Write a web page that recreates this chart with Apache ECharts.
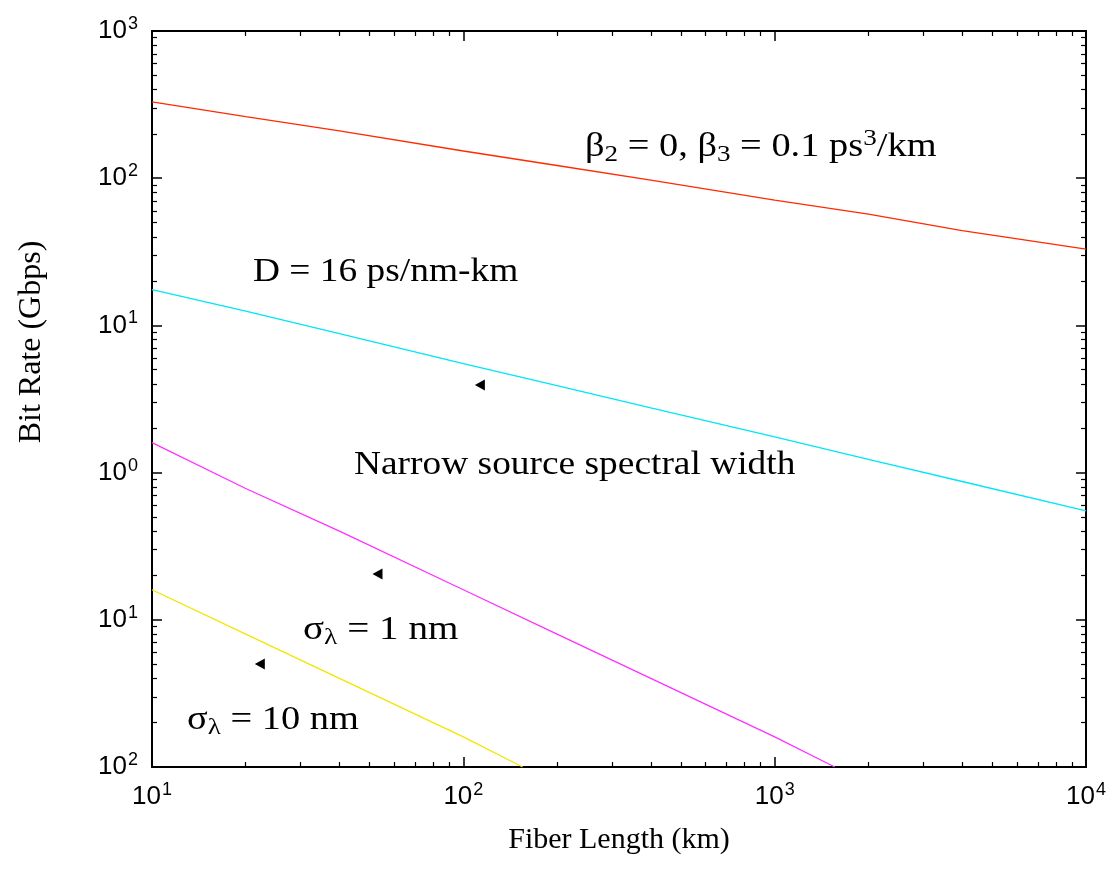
<!DOCTYPE html>
<html>
<head>
<meta charset="utf-8">
<script src="https://cdn.jsdelivr.net/npm/echarts@6/dist/echarts.min.js"></script>
<style>
html,body{margin:0;padding:0;background:#fff;}
#chart{width:1109px;height:887px;}
</style>
</head>
<body>
<div id="chart"></div>
<script>
// Fiber length (km) and bit rate (Gbps)
const redX = [10, 20, 40, 100, 200, 400, 1000, 2000, 4000, 10000];
const redY = [330, 262, 210, 153, 122, 97, 71, 57, 44, 33];
const cyanX = [10, 20, 40, 100, 200, 400, 1000, 2000, 4000, 10000];
const cyanY = [17.5, 12.5, 8.8, 5.5, 3.9, 2.75, 1.75, 1.23, 0.87, 0.55];
const magentaX = [10, 20, 40, 100, 200, 400, 1000, 1560];
const magentaY = [1.6, 0.78, 0.4, 0.16, 0.08, 0.04, 0.016, 0.01];
const yellowX = [10, 20, 40, 100, 155];
const yellowY = [0.16, 0.08, 0.04, 0.016, 0.01];
// small arrow heads (pointing left)
const arrowX = [113, 53, 22.2];
const arrowY = [3.94, 0.205, 0.050];
// tick label exponents as printed in the reference
const xTickExp = {1: '1', 2: '2', 3: '3', 4: '4'};
const yTickExp = {'-2': '2', '-1': '1', '0': '0', '1': '1', '2': '2', '3': '3'};

const zip = (a, b) => a.map((v, i) => [v, b[i]]);

const chart = echarts.init(document.getElementById('chart'), null, {renderer: 'canvas'});

const tickRich = {
  b: {fontFamily: 'Liberation Sans', fontSize: 26, color: '#000'},
  s: {fontFamily: 'Liberation Sans', fontSize: 18, color: '#000', padding: [0, 0, 14, 1]}
};
const axisCommon = {
  type: 'log',
  logBase: 10,
  axisLine: {lineStyle: {color: '#000', width: 2}},
  axisTick: {inside: true, length: 10, lineStyle: {color: '#000', width: 1.5}},
  minorTick: {show: true, splitNumber: 9, length: 5, lineStyle: {color: '#000', width: 1.2}},
  splitLine: {show: false},
  minorSplitLine: {show: false}
};

const serif = 'Liberation Serif';
const FS = 34;
const txt = {fontFamily: serif, fontSize: FS, color: '#000'};
const sub = {fontFamily: serif, fontSize: 24, color: '#000', padding: [16, 0, 0, 0]};
const sup = {fontFamily: serif, fontSize: 24, color: '#000', padding: [0, 0, 16, 0]};

function label(x, y, text, sx) {
  return {
    type: 'text', x: x, y: y, scaleX: sx || 1.1, scaleY: 1,
    style: {text: text, rich: {t: txt, d: sub, u: sup}, fontFamily: serif, fontSize: FS,
            fill: '#000', align: 'left', verticalAlign: 'middle'}
  };
}

const option = {
  animation: false,
  backgroundColor: '#fff',
  grid: {left: 152, right: 21, top: 31, bottom: 120, containLabel: false},
  xAxis: [
    Object.assign({}, axisCommon, {
      position: 'bottom', min: 10, max: 10000,
      axisLabel: {
        margin: 14,
        formatter: v => '{b|10}{s|' + xTickExp[Math.round(Math.log10(v))] + '}',
        rich: tickRich
      },
      name: 'Fiber Length (km)', nameLocation: 'middle', nameGap: 58,
      nameTextStyle: {fontFamily: serif, fontSize: 30, color: '#000'}
    }),
    Object.assign({}, axisCommon, {
      position: 'top', min: 10, max: 10000, axisLabel: {show: false}
    })
  ],
  yAxis: [
    Object.assign({}, axisCommon, {
      position: 'left', min: 0.01, max: 1000,
      axisLabel: {
        margin: 14,
        formatter: v => '{b|10}{s|' + yTickExp[String(Math.round(Math.log10(v)))] + '}',
        rich: tickRich
      }
    }),
    Object.assign({}, axisCommon, {
      position: 'right', min: 0.01, max: 1000, axisLabel: {show: false}
    })
  ],
  series: [
    {type: 'line', data: zip(redX, redY), symbol: 'none', lineStyle: {color: '#ff2a00', width: 1.3}},
    {type: 'line', data: zip(cyanX, cyanY), symbol: 'none', lineStyle: {color: '#00e6f5', width: 1.3}},
    {type: 'line', data: zip(magentaX, magentaY), symbol: 'none', lineStyle: {color: '#ff30ff', width: 1.3}},
    {type: 'line', data: zip(yellowX, yellowY), symbol: 'none', lineStyle: {color: '#f2e600', width: 1.3}},
    {type: 'scatter', data: zip(arrowX, arrowY), symbol: 'triangle', symbolSize: [11, 10], symbolRotate: 90,
     itemStyle: {color: '#000', opacity: 1}}
  ],
  graphic: [
    label(585, 147, '{t|β}{d|2}{t| = 0, β}{d|3}{t| = 0.1 ps}{u|3}{t|/km}', 1.13),
    label(253, 272, '{t|D = 16 ps/nm-km}'),
    label(354, 465, '{t|Narrow source spectral width}'),
    label(303, 630, '{t|σ}{d|λ}{t| = 1 nm}', 1.15),
    label(187, 720, '{t|σ}{d|λ}{t| = 10 nm}', 1.13),
    {type: 'text', x: 32, y: 342, rotation: Math.PI / 2,
     style: {text: 'Bit Rate (Gbps)', fontFamily: serif, fontSize: 32, fill: '#000',
             align: 'center', verticalAlign: 'middle'}}
  ]
};
chart.setOption(option);
</script>
</body>
</html>
